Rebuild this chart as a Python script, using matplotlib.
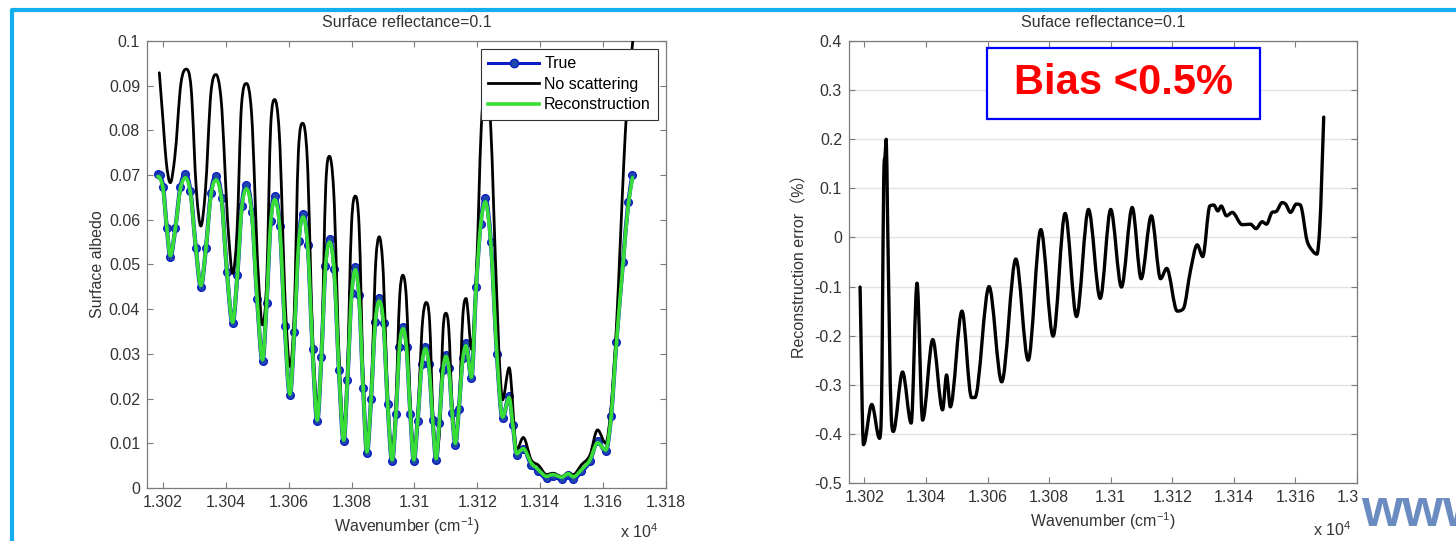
import numpy as np
import matplotlib
matplotlib.use('Agg')
import matplotlib.pyplot as plt
from matplotlib.path import Path
from matplotlib.patches import PathPatch, Rectangle
from matplotlib.lines import Line2D
from matplotlib.ticker import FuncFormatter, MultipleLocator

plt.rcParams['font.family'] = ['Liberation Sans', 'DejaVu Sans']
plt.rcParams['mathtext.fontset'] = 'custom'
plt.rcParams['mathtext.rm'] = 'Liberation Sans'

# ---------------------------------------------------------------------------
# Spectra (wavenumber in cm^-1)
# ---------------------------------------------------------------------------

WN_TRUE = [
    13018.4, 13019.0, 13020.1, 13021.3, 13022.4,
    13024.0, 13025.6, 13027.2,
    13028.8, 13030.5, 13032.1,
    13033.7, 13035.3, 13036.9,
    13038.7, 13040.4, 13042.2,
    13043.7, 13045.1, 13046.6,
    13048.3, 13050.0, 13051.7,
    13053.0, 13054.3, 13055.6,
    13057.2, 13058.8, 13060.4,
    13061.8, 13063.2, 13064.6,
    13066.1, 13067.6, 13069.1,
    13070.4, 13071.7, 13073.0,
    13074.5, 13076.0, 13077.5,
    13078.7, 13080.0, 13081.2,
    13082.4, 13083.7, 13084.9,
    13086.2, 13087.5, 13088.8,
    13090.2, 13091.5, 13092.9,
    13094.1, 13095.2, 13096.4,
    13097.5, 13098.7, 13099.8,
    13101.0, 13102.3, 13103.5,
    13104.6, 13105.8, 13106.9,
    13107.9, 13109.0, 13110.0,
    13111.0, 13112.0, 13113.0,
    13114.1, 13115.3, 13116.4,
    13118.1,
    13119.6, 13121.0, 13122.5,
    13124.3, 13126.2, 13128.0,
    13130.1, 13131.3, 13132.5,
    13134.6, 13137.1, 13139.4,
    13142.0, 13144.0, 13146.8, 13148.9, 13150.5, 13153.1, 13155.8,
    13158.2, 13160.8, 13162.5, 13164.2, 13166.3, 13168.0, 13169.3]

ALB_TRUE = [
    0.0703, 0.0700, 0.0673, 0.0581, 0.0517,
    0.0582, 0.0674, 0.0702,
    0.0664, 0.0538, 0.0450,
    0.0536, 0.0660, 0.0697,
    0.0648, 0.0483, 0.0368,
    0.0476, 0.0631, 0.0677,
    0.0618, 0.0422, 0.0284,
    0.0413, 0.0598, 0.0653,
    0.0586, 0.0363, 0.0207,
    0.0349, 0.0553, 0.0614,
    0.0544, 0.0312, 0.0149,
    0.0292, 0.0497, 0.0558,
    0.0490, 0.0263, 0.0104,
    0.0241, 0.0436, 0.0495,
    0.0432, 0.0224, 0.0078,
    0.0199, 0.0372, 0.0424,
    0.0369, 0.0187, 0.0060,
    0.0165, 0.0316, 0.0361,
    0.0316, 0.0165, 0.0060,
    0.0150, 0.0278, 0.0316,
    0.0278, 0.0152, 0.0063,
    0.0145, 0.0263, 0.0298,
    0.0268, 0.0167, 0.0097,
    0.0176, 0.0290, 0.0324,
    0.0246,
    0.0450, 0.0590, 0.0648,
    0.0550, 0.0300, 0.0156,
    0.0205, 0.0140, 0.0074,
    0.0088, 0.0052, 0.0037,
    0.0022, 0.0026, 0.0019, 0.0028, 0.0020, 0.0037, 0.0060,
    0.0104, 0.0082, 0.0160, 0.0327, 0.0506, 0.0640, 0.0700]

ALB_RECON = [
    0.0697, 0.0694, 0.0668, 0.0581, 0.0520,
    0.0582, 0.0669, 0.0694,
    0.0659, 0.0538, 0.0453,
    0.0536, 0.0655, 0.0689,
    0.0643, 0.0483, 0.0371,
    0.0476, 0.0626, 0.0669,
    0.0613, 0.0422, 0.0287,
    0.0413, 0.0593, 0.0645,
    0.0581, 0.0363, 0.0210,
    0.0349, 0.0548, 0.0606,
    0.0539, 0.0312, 0.0152,
    0.0292, 0.0492, 0.0550,
    0.0485, 0.0263, 0.0107,
    0.0241, 0.0431, 0.0488,
    0.0427, 0.0224, 0.0081,
    0.0199, 0.0367, 0.0418,
    0.0364, 0.0187, 0.0063,
    0.0165, 0.0312, 0.0356,
    0.0312, 0.0165, 0.0063,
    0.0150, 0.0274, 0.0311,
    0.0274, 0.0152, 0.0066,
    0.0145, 0.0259, 0.0294,
    0.0264, 0.0167, 0.0100,
    0.0176, 0.0285, 0.0318,
    0.0248,
    0.0450, 0.0585, 0.0640,
    0.0545, 0.0300, 0.0159,
    0.0202, 0.0140, 0.0077,
    0.0088, 0.0056, 0.0041,
    0.0026, 0.0030, 0.0024, 0.0032, 0.0025, 0.0041, 0.0063,
    0.0101, 0.0085, 0.0160, 0.0325, 0.0502, 0.0635, 0.0694]

WN_NOSCAT = [
    13018.9, 13020.2, 13021.0, 13022.4, 13023.8, 13025.8, 13027.4, 13029.0,
    13030.7, 13032.1, 13033.5, 13035.3, 13036.9, 13038.5,
    13040.8, 13042.2, 13043.6, 13045.0, 13046.6, 13048.2,
    13050.3, 13051.7, 13053.1, 13054.3, 13055.6, 13057.0,
    13059.0, 13060.4, 13061.8, 13063.1, 13064.5, 13065.9,
    13067.7, 13069.1, 13070.5, 13071.8, 13073.0, 13074.3,
    13076.2, 13077.4, 13078.6, 13080.0, 13081.2, 13082.4,
    13083.8, 13085.0, 13086.2, 13087.7, 13088.8, 13089.9,
    13091.6, 13092.8, 13094.0, 13095.3, 13096.3, 13097.4,
    13098.8, 13099.9, 13101.0, 13102.6, 13103.7, 13104.8,
    13105.9, 13107.0, 13108.1, 13109.1, 13110.0, 13110.9,
    13112.0, 13113.1, 13114.2, 13115.4, 13116.4,
    13118.2, 13119.8, 13121.2, 13123.0, 13124.3, 13125.8, 13127.2, 13128.0,
    13130.1, 13132.5, 13134.6, 13137.1, 13139.4,
    13142.0, 13144.0, 13146.8, 13148.9, 13150.5, 13153.1, 13155.8,
    13158.2, 13160.8, 13162.5, 13164.2, 13165.5, 13166.5, 13167.5, 13169.4]

ALB_NOSCAT = [
    0.0929, 0.0810, 0.0737, 0.0683, 0.0739, 0.0907, 0.0937, 0.0895,
    0.0663, 0.0586, 0.0661, 0.0884, 0.0925, 0.0872,
    0.0578, 0.0480, 0.0574, 0.0854, 0.0905, 0.0840,
    0.0484, 0.0365, 0.0476, 0.0809, 0.0869, 0.0797,
    0.0403, 0.0272, 0.0392, 0.0751, 0.0816, 0.0740,
    0.0325, 0.0186, 0.0308, 0.0675, 0.0742, 0.0668,
    0.0261, 0.0125, 0.0241, 0.0590, 0.0653, 0.0586,
    0.0218, 0.0095, 0.0198, 0.0506, 0.0562, 0.0504,
    0.0184, 0.0078, 0.0166, 0.0428, 0.0476, 0.0428,
    0.0166, 0.0078, 0.0152, 0.0375, 0.0415, 0.0375,
    0.0154, 0.0080, 0.0148, 0.0354, 0.0391, 0.0358,
    0.0176, 0.0115, 0.0183, 0.0387, 0.0424,
    0.0310, 0.0500, 0.0800, 0.0920, 0.0800, 0.0500, 0.0260, 0.0197,
    0.0269, 0.0086, 0.0113, 0.0063, 0.0051,
    0.0030, 0.0033, 0.0026, 0.0033, 0.0030, 0.0052, 0.0074,
    0.0130, 0.0100, 0.0180, 0.0360, 0.0560, 0.0720, 0.0850, 0.1000]

# reconstruction error (%)
WN_ERR = [
    13018.6, 13019.7, 13022.4, 13024.9, 13025.5, 13026.4, 13026.7, 13027.1,
    13027.5, 13028.7, 13029.4, 13032.4, 13035.2, 13037.1, 13038.9,
    13042.2, 13045.4, 13046.7, 13047.9, 13051.7, 13054.8, 13055.9,
    13060.5, 13064.6, 13069.2, 13073.2, 13077.3, 13081.3, 13085.2,
    13088.9, 13092.8, 13096.6, 13100.0, 13103.5, 13107.0, 13109.9,
    13113.2, 13116.2, 13118.2, 13121.6, 13123.6, 13125.9, 13128.1,
    13129.9, 13132.2, 13133.5, 13134.8, 13135.9, 13137.6, 13139.5,
    13142.7, 13145.4, 13147.2, 13149.2, 13150.6, 13152.4, 13153.8,
    13155.7, 13156.8, 13158.4, 13160.3, 13161.6, 13163.8, 13165.4,
    13167.0, 13167.9, 13169.2]

ERR_PCT = [
    -0.101, -0.422, -0.340, -0.409, -0.360, 0.150, 0.165, 0.200,
    0.050, -0.360, -0.395, -0.274, -0.378, -0.093, -0.372,
    -0.208, -0.351, -0.280, -0.345, -0.150, -0.326, -0.326,
    -0.100, -0.294, -0.044, -0.250, 0.016, -0.201, 0.049,
    -0.161, 0.057, -0.124, 0.057, -0.101, 0.061, -0.084,
    0.044, -0.084, -0.063, -0.150, -0.145, -0.068, -0.015,
    -0.039, 0.064, 0.066, 0.054, 0.064, 0.044, 0.051,
    0.026, 0.027, 0.018, 0.032, 0.027, 0.051, 0.053,
    0.071, 0.068, 0.051, 0.068, 0.066, -0.007, -0.026,
    -0.034, 0.020, 0.245]

C_TRUE = '#0c1fc4'
C_TRUE_FACE = '#1f48a8'
C_NOSCAT = '#000000'
C_RECON = '#38dd38'
C_TEXT = '#333333'
C_AXIS = '#7a7a7a'


# ---------------------------------------------------------------------------
# Smooth cubic path through the sampled points (flat at local extrema)
# ---------------------------------------------------------------------------

def smooth_path(x, y):
    x = np.asarray(x, float)
    y = np.asarray(y, float)
    h = np.diff(x)
    d = np.diff(y) / h
    m = np.zeros_like(y)
    m[0], m[-1] = d[0], d[-1]
    for i in range(1, len(y) - 1):
        if d[i - 1] * d[i] > 0:
            s = (d[i - 1] * h[i] + d[i] * h[i - 1]) / (h[i - 1] + h[i])
            lim = 3 * min(abs(d[i - 1]), abs(d[i]))
            m[i] = np.sign(s) * min(abs(s), lim)
    verts = [(x[0], y[0])]
    for i in range(len(h)):
        verts += [(x[i] + h[i] / 3, y[i] + m[i] * h[i] / 3),
                  (x[i + 1] - h[i] / 3, y[i + 1] - m[i + 1] * h[i] / 3),
                  (x[i + 1], y[i + 1])]
    codes = [Path.MOVETO] + [Path.CURVE4] * (3 * len(h))
    return Path(verts, codes)


def draw_curve(ax, x, y, **kw):
    patch = PathPatch(smooth_path(x, y), fill=False, capstyle='round',
                      joinstyle='round', **kw)
    ax.add_patch(patch)
    return patch


def style_axes(ax, x10_pos):
    ax.set_xlim(13015, 13180)
    ax.xaxis.set_major_locator(MultipleLocator(20))
    ax.xaxis.set_major_formatter(FuncFormatter(lambda v, p: f'{v / 1e4:g}'))
    ax.tick_params(direction='in', top=True, right=True, length=4, width=0.8,
                   color=C_AXIS, labelsize=11.5, labelcolor=C_TEXT, pad=5)
    for sp in ax.spines.values():
        sp.set_color(C_AXIS)
        sp.set_linewidth(0.9)
    ax.set_xlabel('Wavenumber (cm$^{\\mathregular{-1}}$)', fontsize=11.5,
                  color=C_TEXT, labelpad=4)
    ax.text(*x10_pos, 'x 10$^{\\mathregular{4}}$', transform=ax.transAxes,
            ha='right', va='center', fontsize=11.5, color=C_TEXT)


# ---------------------------------------------------------------------------
# Figure
# ---------------------------------------------------------------------------

fig = plt.figure(figsize=(14.56, 5.41), dpi=100)
ax1 = fig.add_axes([0.1010, 0.0980, 0.3565, 0.8262])
ax2 = fig.add_axes([0.5831, 0.1072, 0.3489, 0.8170])

# ---- left: surface albedo ------------------------------------------------
draw_curve(ax1, WN_TRUE, ALB_TRUE, edgecolor=C_TRUE, lw=3.0, zorder=2)
ax1.plot(WN_TRUE, ALB_TRUE, ls='none', marker='o', ms=5.5,
         mfc=C_TRUE_FACE, mec=C_TRUE, mew=1, zorder=2)
draw_curve(ax1, WN_NOSCAT, ALB_NOSCAT, edgecolor=C_NOSCAT, lw=2.0, zorder=3)
draw_curve(ax1, WN_TRUE, ALB_RECON, edgecolor=C_RECON, lw=2.6, zorder=4)

style_axes(ax1, (0.985, -0.098))
ax1.set_ylim(0, 0.1)
ax1.yaxis.set_major_locator(MultipleLocator(0.01))
ax1.yaxis.set_major_formatter(FuncFormatter(lambda v, p: f'{round(v, 3) + 0.0:g}'))
ax1.set_ylabel('Surface albedo', fontsize=11.5, color=C_TEXT, labelpad=3)
ax1.set_title('Surface reflectance=0.1', fontsize=11.5, color=C_TEXT, pad=10)

handles = [
    Line2D([], [], color=C_TRUE, lw=2.2, marker='o', ms=6,
           mfc=C_TRUE_FACE, mec=C_TRUE),
    Line2D([], [], color=C_NOSCAT, lw=2.0),
    Line2D([], [], color=C_RECON, lw=2.6),
]
leg = ax1.legend(handles, ['True', 'No scattering', 'Reconstruction'],
                 loc='upper right', bbox_to_anchor=(0.9846, 0.982),
                 borderaxespad=0, fontsize=11.5, frameon=True, fancybox=False,
                 framealpha=1, edgecolor='#333333', handlelength=3.2,
                 handletextpad=0.3, labelspacing=0.35, borderpad=0.45)
leg.get_frame().set_linewidth(0.8)
leg.set_zorder(10)

# ---- right: reconstruction error ----------------------------------------
draw_curve(ax2, WN_ERR, ERR_PCT, edgecolor='#000000', lw=2.4, zorder=3)

style_axes(ax2, (0.988, -0.106))
ax2.set_ylim(-0.5, 0.4)
ax2.yaxis.set_major_locator(MultipleLocator(0.1))
ax2.yaxis.set_major_formatter(FuncFormatter(lambda v, p: f'{round(v, 2) + 0.0:g}'))
ax2.yaxis.grid(True, color='#e3e3e3', lw=1)
ax2.set_axisbelow(True)
ax2.set_ylabel('Reconstruction error（%）', fontsize=11.5, color=C_TEXT,
               labelpad=5, family=['Liberation Sans', 'Noto Sans CJK SC'])
ax2.set_title('Suface reflectance=0.1', fontsize=11.5, color=C_TEXT, pad=10)

ax2.add_patch(Rectangle((0.2717, 0.8235), 0.5373, 0.1605, transform=ax2.transAxes,
                        facecolor='white', edgecolor='#0000ff', lw=1.6, zorder=5))
ax2.text(0.540, 0.904, 'Bias <0.5%', transform=ax2.transAxes, ha='center',
         va='center', fontsize=30, fontweight='bold', color='#ff0000', zorder=6)

# ---- slide decorations ----------------------------------------------------
fig.add_artist(Line2D([0.0082, 0.0082, 1.01], [-0.01, 0.9815, 0.9815],
                      transform=fig.transFigure, color='#14aeef', lw=3,
                      solid_joinstyle='round'))
fig.text(1361 / 1456, 1 - 512 / 541, 'www', fontsize=38, fontweight='bold',
         color='#6a8cc0', ha='left', va='center',
         family=['Liberation Sans Narrow', 'Liberation Sans'],
         bbox=dict(facecolor='white', edgecolor='none', pad=1))

fig.savefig('out.png', dpi=100, facecolor='white')
